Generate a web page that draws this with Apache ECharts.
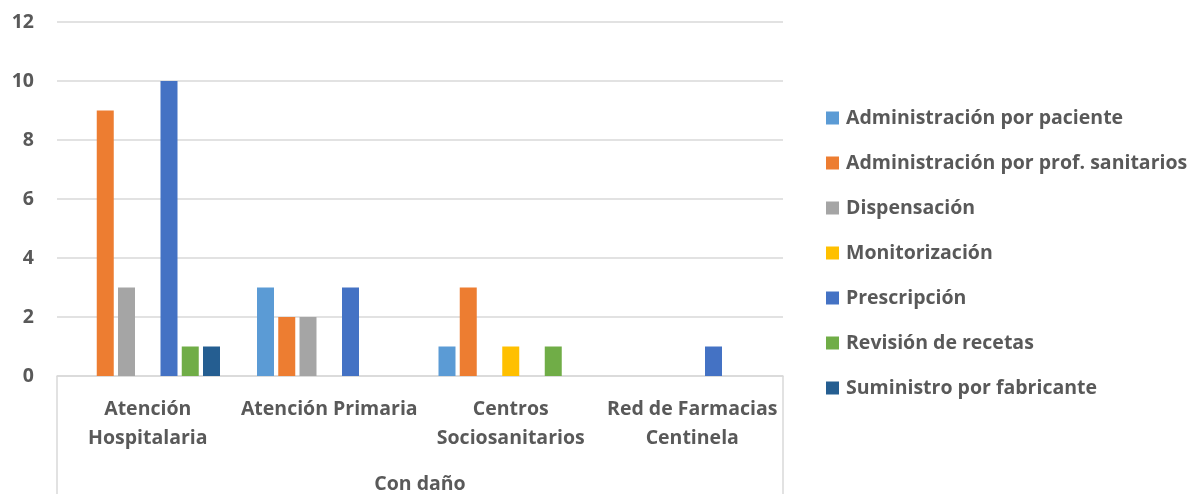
<!DOCTYPE html>
<html>
<head>
<meta charset="utf-8">
<script src="https://cdn.jsdelivr.net/npm/echarts@6/dist/echarts.min.js"></script>
<style>
	html, body { margin: 0; padding: 0; background: #fff; overflow: hidden; }
	#chart { width: 1194px; height: 494px; }
</style>
</head>
<body>
<div id="chart"></div>
<script>
// categorias del eje x
var categorias = ['Atención\nHospitalaria', 'Atención Primaria', 'Centros\nSociosanitarios', 'Red de Farmacias\nCentinela'];
var grupo = ['Con daño'];

// series (nombre, valores)
var nombres = [
	'Administración por paciente',
	'Administración por prof. sanitarios',
	'Dispensación',
	'Monitorización',
	'Prescripción',
	'Revisión de recetas',
	'Suministro por fabricante'
];
var admPaciente = [0, 3, 1, 0];
var admProf = [9, 2, 3, 0];
var dispensacion = [3, 2, 0, 0];
var monitorizacion = [0, 0, 1, 0];
var prescripcion = [10, 3, 0, 1];
var revision = [1, 0, 1, 0];
var suministro = [1, 0, 0, 0];

var ticksY = [0, 2, 4, 6, 8, 10, 12];

var colores = ['#5B9BD5', '#ED7D31', '#A5A5A5', '#FFC000', '#4472C4', '#70AD47', '#255E91'];
var valores = [admPaciente, admProf, dispensacion, monitorizacion, prescripcion, revision, suministro];

var fuente = 'Open Sans';
var gris = '#595959';
var tam = 19.5;

var chart = echarts.init(document.getElementById('chart'));

var series = [];
for (var i = 0; i < nombres.length; i++) {
	series.push({
		name: nombres[i],
		type: 'bar',
		xAxisIndex: 0,
		barWidth: 17,
		barGap: '25%',
		itemStyle: { color: colores[i] },
		// los ceros no se dibujan
		data: valores[i].map(function(v) { return v === 0 ? '-' : v; })
	});
}

var option = {
	animation: false,
	textStyle: { fontFamily: fuente },
	grid: { left: 57, right: 411, top: 22, bottom: 118, containLabel: false, outerBoundsMode: 'none' },
	legend: {
		orient: 'vertical',
		left: 821,
		top: 101,
		itemWidth: 13,
		itemHeight: 13,
		itemGap: 21,
		icon: 'rect',
		textStyle: { fontFamily: fuente, fontSize: tam, fontWeight: 'bold', color: gris, lineHeight: 24, padding: [0, 0, 0, 2] },
		data: nombres
	},
	xAxis: [{
		type: 'category',
		data: categorias,
		axisLine: { lineStyle: { color: '#D9D9D9', width: 1.5 } },
		axisTick: { show: false },
		axisLabel: {
			interval: 0,
			margin: 19,
			fontFamily: fuente,
			fontSize: tam,
			fontWeight: 'bold',
			color: gris,
			lineHeight: 29
		}
	}, {
		type: 'category',
		data: grupo,
		position: 'bottom',
		axisLine: { show: false },
		axisTick: { show: true, length: 118, inside: false, lineStyle: { color: '#D9D9D9', width: 1.5 } },
		axisLabel: {
			margin: 94,
			fontFamily: fuente,
			fontSize: tam,
			fontWeight: 'bold',
			color: gris,
			lineHeight: 29
		}
	}],
	yAxis: {
		type: 'value',
		min: ticksY[0],
		max: ticksY[ticksY.length - 1],
		interval: 2,
		axisLine: { show: false },
		axisTick: { show: false },
		splitLine: { lineStyle: { color: '#D9D9D9', width: 1.5 } },
		axisLabel: {
			margin: 23,
			fontFamily: fuente,
			fontSize: tam,
			fontWeight: 'bold',
			color: gris
		}
	},
	series: series
};

chart.setOption(option);
</script>
</body>
</html>
